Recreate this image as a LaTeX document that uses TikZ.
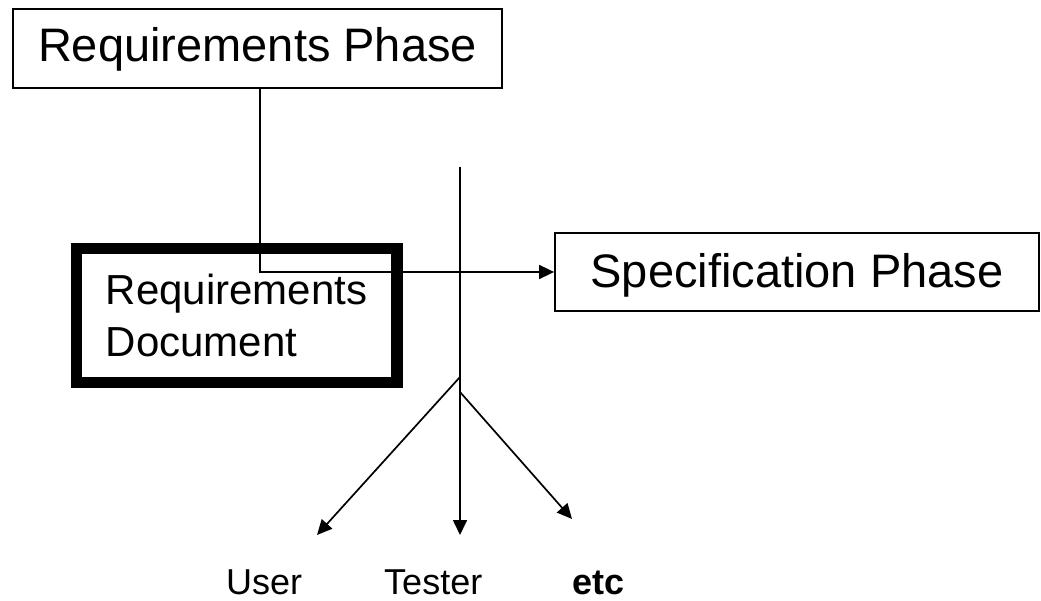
\documentclass[tikz,border=0pt]{standalone}
\usepackage{fontspec}
\setmainfont{Liberation Sans}
\usetikzlibrary{arrows.meta}

\begin{document}
\begin{tikzpicture}[x=1pt,y=-1pt,
  phasebox/.style={draw, line width=1.8pt, inner sep=0pt,
    font=\fontsize{47}{56}\selectfont},
  docbox/.style={draw, line width=11.5pt, inner sep=0pt, align=left,
    font=\fontsize{42}{52}\selectfont},
  leaf/.style={anchor=base west, inner sep=0pt, font=\fontsize{36}{42}\selectfont},
  conn/.style={line width=1.7pt, -{Triangle[length=15pt,width=14pt]}}]
  \useasboundingbox (0,0) rectangle (1041,601);

  % phases and the document
  \node[phasebox, minimum width=489pt, minimum height=79pt,
        text height=35pt, text depth=8pt] (rp) at (257.5,48.5) {Requirements Phase};
  \node[phasebox, minimum width=484pt, minimum height=78pt,
        text height=37.5pt, text depth=5.5pt] (sp) at (797,272) {Specification Phase};
  \node[docbox, minimum width=320.5pt, minimum height=134pt] (rd) at (236.5,315.5) {Requirements\\Document};

  % flow from requirements to specification
  \coordinate (drop) at ([xshift=2.5pt]rp.south);
  \draw[conn] (drop) |- (sp.west);

  % distribution of the document
  \coordinate (top) at (460,167);
  \coordinate (forkA) at (460,377);
  \coordinate (forkB) at (460,392);
  \coordinate (tipU) at (317,535);
  \coordinate (tipT) at (460,535);
  \coordinate (tipE) at (572,519);

  \node[leaf] (user) at (226,594) {User};
  \node[leaf] (tester) at (384,594) {Tester};
  \node[leaf] (etc) at (572,594) {\bfseries etc};

  \draw[conn] (top) -- (tipT);
  \draw[conn] (forkA) -- (tipU);
  \draw[conn] (forkB) -- (tipE);
\end{tikzpicture}
\end{document}
